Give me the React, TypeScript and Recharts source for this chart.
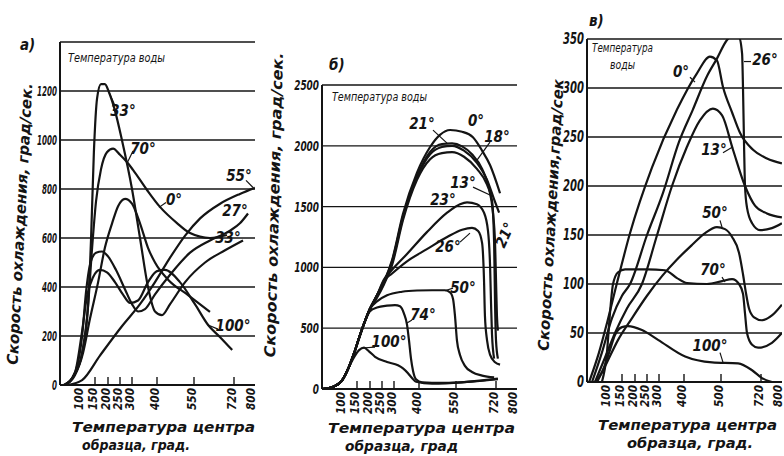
import React from "react";
import {
  LineChart,
  Line,
  XAxis,
  YAxis,
  CartesianGrid,
  ReferenceDot,
  ReferenceLine,
} from "recharts";

const FONT = "'Liberation Sans Narrow', 'DejaVu Sans Condensed', 'Liberation Sans', sans-serif";
const INK = "#141414";

// the temperature axis is drawn unevenly in the source: where each tick sits along it
const AXIS_POS = [0, 21, 35, 48, 60, 72, 97, 134, 174, 193];
const TEMPS_AB = [0, 100, 150, 200, 250, 300, 400, 550, 720, 800];
const TEMPS_C = [0, 100, 150, 200, 250, 300, 400, 500, 720, 800];

const Y_TICKS_A = [0, 200, 400, 600, 800, 1000, 1200];
const Y_TICKS_B = [0, 500, 1000, 1500, 2000, 2500];
const Y_TICKS_C = [0, 50, 100, 150, 200, 250, 300, 350];

// а) pairs of [temperature, cooling rate]
const a_33 = [[19, 0], [67, 40], [104, 130], [125, 320], [136, 600], [146, 950], [158, 1170], [173, 1228], [188, 1228], [204, 1195], [229, 1120], [258, 1000], [300, 800], [332, 600], [364, 400], [392, 300], [420, 285], [453, 330], [514, 420], [597, 500], [682, 550], [758, 590]];
const a_70 = [[19, 0], [67, 40], [104, 130], [125, 320], [139, 550], [154, 750], [173, 880], [196, 950], [221, 965], [250, 940], [279, 910], [304, 878], [360, 796], [412, 727], [481, 661], [534, 620], [618, 600], [690, 612]];
const a_0 = [[24, 0], [71, 40], [107, 130], [132, 270], [162, 420], [188, 560], [217, 660], [242, 730], [271, 760], [300, 740], [332, 660], [364, 560], [392, 500], [445, 430], [526, 367], [618, 298]];
const a_55 = [[38, 0], [104, 20], [169, 120], [258, 240], [332, 330], [392, 420], [453, 520], [514, 610], [576, 680], [661, 740], [745, 780], [808, 805]];
const a_27 = [[24, 0], [71, 50], [104, 200], [118, 380], [132, 490], [154, 540], [177, 545], [200, 525], [233, 470], [271, 390], [300, 330], [324, 300], [352, 310], [392, 370], [453, 450], [534, 540], [618, 590], [703, 630], [745, 660], [779, 700]];
const a_100 = [[24, 0], [71, 50], [104, 220], [121, 360], [143, 440], [169, 470], [196, 460], [229, 420], [262, 370], [292, 335], [324, 345], [364, 420], [400, 465], [432, 470], [493, 420], [554, 330], [610, 245], [661, 195], [712, 143]];

// б)
const b_start = [[0, 0], [48, 15], [95, 70], [121, 180], [139, 290], [158, 420], [181, 560], [200, 660]];
const b_0 = [...b_start, [229, 770], [258, 880], [292, 1060], [336, 1440], [392, 1780], [445, 1990], [485, 2090], [526, 2130], [576, 2115], [622, 2070], [661, 1960], [695, 1840], [737, 1610]];
const b_21 = [...b_start, [229, 770], [258, 880], [292, 1050], [336, 1420], [392, 1750], [445, 1950], [493, 2015], [534, 2020], [576, 1995], [618, 1930], [661, 1810], [690, 1650], [707, 1450], [716, 1200], [720, 900], [724, 600], [728, 480]];
const b_18 = [...b_start, [229, 760], [258, 870], [292, 1040], [336, 1410], [392, 1740], [445, 1930], [493, 1990], [534, 2000], [584, 1960], [639, 1860], [682, 1720], [712, 1560], [733, 1450]];
const b_13 = [...b_start, [229, 750], [258, 860], [292, 1020], [336, 1390], [392, 1720], [445, 1890], [493, 1940], [534, 1948], [584, 1910], [639, 1810], [682, 1680], [703, 1550], [712, 1200], [716, 700], [720, 400], [728, 250]];
const b_23 = [...b_start, [229, 770], [258, 900], [292, 980], [352, 1110], [432, 1290], [514, 1450], [567, 1520], [597, 1535], [639, 1520], [669, 1450], [686, 1300], [695, 1000], [699, 700], [703, 450], [712, 250]];
const b_26 = [...b_start, [229, 770], [258, 890], [292, 950], [352, 1050], [432, 1150], [514, 1250], [576, 1310], [618, 1325], [644, 1300], [661, 1200], [669, 900], [673, 600], [682, 400], [695, 280], [716, 220], [737, 200]];
const b_50 = [...b_start, [229, 720], [271, 770], [332, 800], [392, 810], [453, 812], [505, 812], [526, 795], [538, 740], [546, 600], [554, 400], [567, 280], [588, 190], [618, 140], [661, 110], [712, 95]];
const b_74 = [[0, 0], [48, 15], [95, 70], [121, 180], [139, 290], [158, 420], [181, 560], [200, 640], [229, 670], [271, 685], [304, 690], [324, 680], [340, 620], [352, 530], [360, 400], [368, 250], [376, 150], [388, 80], [412, 55], [493, 50], [618, 60], [728, 80]];
const b_100 = [[0, 0], [48, 15], [95, 70], [121, 180], [139, 260], [158, 320], [177, 340], [196, 310], [221, 265], [271, 222], [316, 195], [336, 170], [356, 130], [372, 90], [388, 60], [453, 45], [576, 55], [728, 85]];

// в)
const c_0 = [[10, 0], [57, 30], [95, 60], [132, 101], [181, 152], [271, 219], [372, 278], [435, 315], [470, 332], [489, 328], [511, 301], [561, 275], [605, 254], [676, 237], [745, 228], [808, 223]];
const c_26 = [[24, 0], [71, 30], [114, 65], [150, 88], [181, 100], [250, 150], [316, 193], [380, 245], [424, 278], [462, 312], [489, 330], [533, 349], [566, 354], [599, 352], [616, 335], [621, 300], [627, 240], [632, 200], [643, 178], [671, 162], [715, 155], [766, 157], [808, 162]];
const c_13 = [[38, 0], [86, 25], [125, 50], [169, 75], [229, 100], [292, 150], [352, 200], [408, 240], [443, 267], [478, 279], [506, 272], [566, 237], [632, 200], [687, 180], [745, 172], [808, 168]];
const c_50 = [[48, 0], [95, 20], [136, 43], [188, 65], [250, 88], [312, 108], [372, 125], [422, 140], [457, 152], [489, 158], [522, 156], [561, 148], [599, 132], [621, 110], [638, 90], [654, 75], [682, 66], [724, 63], [766, 68], [808, 79]];
const c_70 = [[71, 0], [95, 30], [107, 70], [118, 100], [136, 112], [162, 115], [250, 115], [324, 114], [372, 106], [408, 101], [462, 100], [506, 103], [561, 105], [599, 100], [621, 90], [632, 70], [643, 50], [671, 38], [704, 35], [766, 40], [808, 50]];
const c_100 = [[38, 0], [71, 10], [104, 30], [125, 48], [150, 56], [173, 57], [229, 53], [296, 43], [403, 26], [476, 20], [594, 19], [671, 12], [724, 4], [766, 0]];

// curve labels: position along the axis, value; optional leader line
const notesA = [
  { text: "33°", at: [63, 1118], line: [55, 1140, 49, 1195] },
  { text: "70°", at: [83, 963], line: [73, 955, 67, 905] },
  { text: "0°", at: [114, 755], line: [106, 745, 99, 725] },
  { text: "55°", at: [179, 853], line: [186, 835, 193, 806] },
  { text: "27°", at: [175, 712] },
  { text: "33°", at: [168, 600] },
  { text: "100°", at: [173, 241], line: [158, 228, 148, 245] },
];
const notesB = [
  { text: "0°", at: [154, 2203] },
  { text: "21°", at: [100, 2178], line: [111, 2129, 125, 2022] },
  { text: "18°", at: [175, 2071], line: [168, 2030, 155, 1882] },
  { text: "13°", at: [141, 1693], line: [151, 1660, 168, 1595] },
  { text: "23°", at: [121, 1553] },
  { text: "26°", at: [126, 1167], line: [138, 1208, 148, 1282] },
  { text: "21°", at: [183, 1266], rot: -65 },
  { text: "50°", at: [141, 830], line: [131, 830, 123, 808] },
  { text: "74°", at: [101, 608], line: [90, 567, 85, 543] },
  { text: "100°", at: [67, 386], line: [53, 345, 40, 337] },
];
const notesC = [
  { text: "26°", at: [178, 329], line: [164, 327, 157, 327] },
  { text: "0°", at: [94, 316], line: [103, 311, 108, 306] },
  { text: "13°", at: [127, 237], line: [136, 234, 146, 240] },
  { text: "50°", at: [128, 172], line: [133, 165, 135, 158] },
  { text: "70°", at: [126, 114], line: [135, 107, 138, 102] },
  { text: "100°", at: [123, 37], line: [133, 30, 136, 20] },
];

function toPos(t: number, temps: number[]) {
  const n = temps.length;
  for (let i = 1; i < n; i++) {
    if (t <= temps[i]) {
      const f = (t - temps[i - 1]) / (temps[i] - temps[i - 1]);
      return AXIS_POS[i - 1] + f * (AXIS_POS[i] - AXIS_POS[i - 1]);
    }
  }
  const f = (t - temps[n - 1]) / (temps[n - 1] - temps[n - 2]);
  return AXIS_POS[n - 1] + f * (AXIS_POS[n - 1] - AXIS_POS[n - 2]);
}

const XTick = (props: any) => {
  const { x, y, payload, temps } = props;
  const i = AXIS_POS.indexOf(payload.value);
  const inner = i > 1 && i < AXIS_POS.length - 1;
  const tx = x + 2;
  const ty = y + 3;
  return (
    <g>
      {inner && <line x1={x} x2={x} y1={y} y2={y - 8} stroke={INK} strokeWidth={1.4} />}
      <text
        x={tx}
        y={ty}
        transform={`rotate(-90 ${tx} ${ty})`}
        textAnchor="end"
        fontFamily={FONT}
        fontStyle="italic"
        fontWeight="bold"
        fontSize={12}
        fill={INK}
        textLength={22}
        lengthAdjust="spacingAndGlyphs"
      >
        {temps[i]}
      </text>
    </g>
  );
};

const YTick = (props: any) => {
  const { x, y, payload, w, size } = props;
  const s = String(payload.value);
  return (
    <text
      x={x}
      y={y}
      dy={size * 0.36}
      textAnchor="end"
      fontFamily={FONT}
      fontStyle="italic"
      fontWeight="bold"
      fontSize={size}
      fill={INK}
      textLength={s.length * w}
      lengthAdjust="spacingAndGlyphs"
    >
      {s}
    </text>
  );
};

const noteLabel = (text: string, rot?: number) => (props: any) => {
  const { viewBox } = props;
  const cx = viewBox.x + viewBox.width / 2;
  const cy = viewBox.y + viewBox.height / 2;
  return (
    <text
      x={cx}
      y={cy}
      dy={5}
      textAnchor="middle"
      transform={rot ? `rotate(${rot} ${cx} ${cy})` : undefined}
      fontFamily={FONT}
      fontStyle="italic"
      fontWeight="bold"
      fontSize={15}
      fill={INK}
    >
      {text}
    </text>
  );
};

function Panel({ left, width, margin, yMax, yTicks, temps, series, notes, tickW, tickSize }: any) {
  return (
    <div style={{ position: "absolute", left, top: 0 }}>
      <LineChart width={width} height={456} margin={margin}>
        <CartesianGrid vertical={false} stroke={INK} strokeWidth={1.3} />
        <XAxis
          dataKey="p"
          type="number"
          domain={[0, 195]}
          ticks={AXIS_POS.slice(1)}
          interval={0}
          height={40}
          tickSize={0}
          tickMargin={0}
          tickLine={false}
          axisLine={{ stroke: INK, strokeWidth: 2 }}
          tick={<XTick temps={temps} />}
          allowDataOverflow
        />
        <XAxis
          xAxisId="top"
          orientation="top"
          type="number"
          domain={[0, 195]}
          height={0}
          tick={false}
          tickLine={false}
          axisLine={{ stroke: INK, strokeWidth: 1.8 }}
        />
        <YAxis
          type="number"
          domain={[0, yMax]}
          ticks={yTicks}
          interval={0}
          width={40}
          tickSize={0}
          tickMargin={3}
          tickLine={false}
          axisLine={{ stroke: INK, strokeWidth: 2 }}
          tick={<YTick w={tickW} size={tickSize} />}
          allowDataOverflow
        />
        <YAxis
          yAxisId="r"
          orientation="right"
          type="number"
          domain={[0, yMax]}
          width={0}
          tick={false}
          tickLine={false}
          axisLine={{ stroke: INK, strokeWidth: 1.8 }}
        />
        {series.map((pts: number[][], k: number) => (
          <Line
            key={k}
            data={pts.map(([t, v]) => ({ p: toPos(t, temps), v }))}
            dataKey="v"
            type="monotone"
            stroke={INK}
            strokeWidth={2.2}
            dot={false}
            activeDot={false}
            isAnimationActive={false}
          />
        ))}
        {notes
          .filter((n: any) => n.line)
          .map((n: any, k: number) => (
            <ReferenceLine
              key={`l${k}`}
              segment={[
                { x: n.line[0], y: n.line[1] },
                { x: n.line[2], y: n.line[3] },
              ]}
              stroke={INK}
              strokeWidth={1.2}
              ifOverflow="visible"
            />
          ))}
        {notes.map((n: any, k: number) => (
          <ReferenceDot
            key={`n${k}`}
            x={n.at[0]}
            y={n.at[1]}
            r={0}
            fill="none"
            stroke="none"
            ifOverflow="visible"
            label={noteLabel(n.text, n.rot)}
          />
        ))}
      </LineChart>
    </div>
  );
}

const Overlay = () => (
  <svg
    width={784}
    height={456}
    style={{ position: "absolute", left: 0, top: 0, pointerEvents: "none" }}
    fontFamily={FONT}
    fontStyle="italic"
    fill={INK}
  >
    <text x={20} y={50} fontSize={15} fontWeight="bold">а)</text>
    <text x={329} y={70} fontSize={15} fontWeight="bold">б)</text>
    <text x={589} y={26} fontSize={15} fontWeight="bold">в)</text>

    <text transform="translate(20,224) rotate(-87)" textAnchor="middle" dy={5} fontSize={15} fontWeight="bold" textLength={282} lengthAdjust="spacingAndGlyphs">
      Скорость охлаждения, град/сек.
    </text>
    <text transform="translate(274,205) rotate(-88.5)" textAnchor="middle" dy={5} fontSize={15} fontWeight="bold" textLength={305} lengthAdjust="spacingAndGlyphs">
      Скорость охлаждения, град/сек.
    </text>
    <text transform="translate(551,215) rotate(-86.8)" textAnchor="middle" dy={5} fontSize={15} fontWeight="bold" textLength={272} lengthAdjust="spacingAndGlyphs">
      Скорость охлаждения,град/сек
    </text>

    <text x={68} y={62} fontSize={13} textLength={97} lengthAdjust="spacingAndGlyphs">Температура воды</text>
    <text x={332} y={101} fontSize={13} textLength={95} lengthAdjust="spacingAndGlyphs">Температура воды</text>
    <text x={592} y={52} fontSize={13} textLength={61} lengthAdjust="spacingAndGlyphs">Температура</text>
    <text x={610} y={69} fontSize={13} textLength={25} lengthAdjust="spacingAndGlyphs">воды</text>

    <text x={72} y={432} fontSize={14} fontWeight="bold" textLength={183} lengthAdjust="spacingAndGlyphs">Температура центра</text>
    <text x={82} y={450} fontSize={14} fontWeight="bold" textLength={108} lengthAdjust="spacingAndGlyphs">образца, град.</text>
    <text x={328} y={433} fontSize={14} fontWeight="bold" textLength={187} lengthAdjust="spacingAndGlyphs">Температура центра</text>
    <text x={345} y={451} fontSize={14} fontWeight="bold" textLength={113} lengthAdjust="spacingAndGlyphs">образца, град</text>
    <text x={598} y={430} fontSize={14} fontWeight="bold" textLength={179} lengthAdjust="spacingAndGlyphs">Температура центра</text>
    <text x={627} y={448} fontSize={14} fontWeight="bold" textLength={126} lengthAdjust="spacingAndGlyphs">образца, град.</text>
  </svg>
);

export default function App() {
  return (
    <div style={{ position: "absolute", left: 0, top: 0, width: 784, height: 456, background: "#fff", overflow: "hidden" }}>
      <Panel
        left={0}
        width={262}
        margin={{ top: 42, right: 7, bottom: 31, left: 20 }}
        yMax={1400}
        yTicks={Y_TICKS_A}
        temps={TEMPS_AB}
        series={[a_33, a_70, a_0, a_55, a_27, a_100]}
        notes={notesA}
        tickW={5}
        tickSize={14}
      />
      <Panel
        left={262}
        width={260}
        margin={{ top: 85, right: 5, bottom: 27, left: 20 }}
        yMax={2500}
        yTicks={Y_TICKS_B}
        temps={TEMPS_AB}
        series={[b_0, b_21, b_18, b_13, b_23, b_26, b_50, b_74, b_100]}
        notes={notesB}
        tickW={6.2}
        tickSize={14}
      />
      <Panel
        left={527}
        width={257}
        margin={{ top: 39, right: 2, bottom: 34, left: 20 }}
        yMax={350}
        yTicks={Y_TICKS_C}
        temps={TEMPS_C}
        series={[c_0, c_26, c_13, c_50, c_70, c_100]}
        notes={notesC}
        tickW={7}
        tickSize={15}
      />
      <Overlay />
    </div>
  );
}
